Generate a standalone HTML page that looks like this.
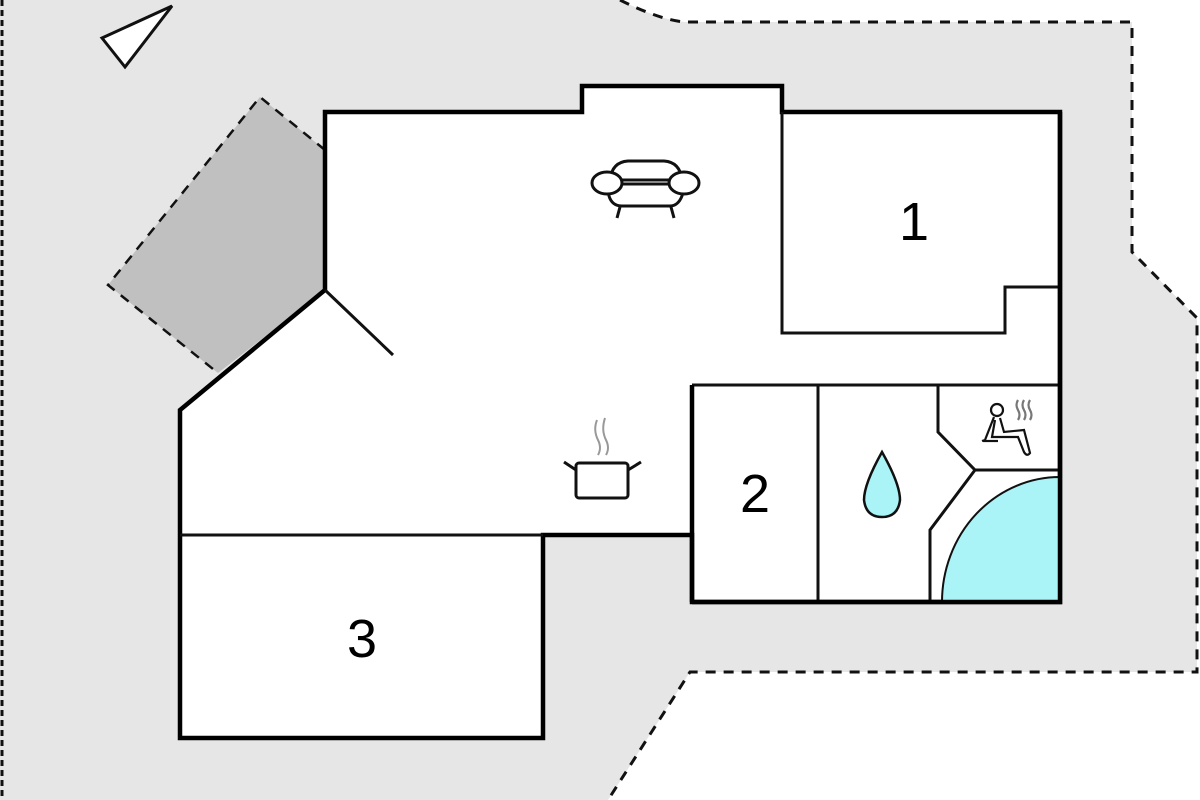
<!DOCTYPE html>
<html><head><meta charset="utf-8"><style>html,body{margin:0;padding:0;background:#fff}svg{display:block}</style></head>
<body>
<svg width="1200" height="800" viewBox="0 0 1200 800" xmlns="http://www.w3.org/2000/svg">
<rect width="1200" height="800" fill="#fff"/>
<!-- site gray -->
<path d="M0,0 L620,0 Q660,20 685,22 L1132,22 L1132,252 L1197,318 L1197,672 L690,672 L608,800 L0,800 Z" fill="#e6e6e6"/>
<path d="M620,0 Q660,20 685,22 L1132,22 L1132,252 L1197,318 L1197,672 L690,672 L608,800" fill="none" stroke="#111" stroke-width="3" stroke-dasharray="10,8"/>
<line x1="2" y1="0" x2="2" y2="800" stroke="#111" stroke-width="3" stroke-dasharray="6,4"/>
<!-- terrace -->
<path d="M325,150 L260,97 L108,285 L218,373 L325,290 Z" fill="#c0c0c0"/>
<path d="M325,150 L260,97 L108,285 L218,373" fill="none" stroke="#111" stroke-width="2.5" stroke-dasharray="10,8"/>
<!-- house -->
<path d="M325,112 L582,112 L582,86 L782,86 L782,112 L1060,112 L1060,602 L692,602 L692,535 L543,535 L543,738 L180,738 L180,410 L325,290 Z" fill="#fff" stroke="#000" stroke-width="4.5" stroke-linejoin="miter"/>
<!-- pool -->
<path d="M1060,477 A118,125 0 0 0 942,602 L1060,602 Z" fill="#aaf4f8" stroke="#111" stroke-width="2"/>
<g fill="none" stroke="#111" stroke-width="3">
<line x1="325" y1="290" x2="393" y2="355"/>
<path d="M782,112 L782,333 L1005,333 L1005,287 L1060,287"/>
<line x1="180" y1="535" x2="543" y2="535"/>
<line x1="692" y1="385" x2="1060" y2="385"/>
<line x1="818" y1="385" x2="818" y2="602"/>
<path d="M938,385 L938,432 L975,470 L1060,470"/>
<path d="M975,470 L930,530 L930,602"/>
</g>
<line x1="692" y1="385" x2="692" y2="602" stroke="#000" stroke-width="4.5"/>
<path d="M1060,112 L1060,602 L692,602" fill="none" stroke="#000" stroke-width="4.5"/>
<!-- compass -->
<polygon points="102,38 172,6 125,67" fill="#fff" stroke="#111" stroke-width="3"/>
<!-- labels -->
<g font-family="Liberation Sans, sans-serif" font-size="54" fill="#000" text-anchor="middle">
<text x="914" y="240">1</text>
<text x="755" y="512">2</text>
<text x="362" y="657">3</text>
</g>
<!-- sofa -->
<g fill="#fff" stroke="#111" stroke-width="3">
<path d="M610,180 Q612,162 628,161 L664,161 Q680,162 682,180 Z"/>
<path d="M608,184 L684,184 L682,196 Q678,206 670,206 L622,206 Q612,206 609,196 Z"/>
<ellipse cx="607" cy="183" rx="15" ry="11"/>
<ellipse cx="684" cy="183" rx="15" ry="11"/>
<line x1="620" y1="207" x2="617" y2="218"/>
<line x1="671" y1="207" x2="674" y2="218"/>
</g>
<!-- pot -->
<g fill="none" stroke="#111" stroke-width="3">
<rect x="576" y="463" width="52" height="35" rx="3" fill="#fff"/>
<path d="M576,470 L564,462 M628,470 L641,462"/>
</g>
<g fill="none" stroke="#999" stroke-width="2">
<path d="M597,420 Q593,430 598,440 Q602,448 598,455"/>
<path d="M605,418 Q601,430 606,440 Q610,448 606,455"/>
</g>
<!-- drop -->
<path d="M882,452 Q864,484 864,500 Q866,517 882,517 Q898,517 900,500 Q900,484 882,452 Z" fill="#aaf4f8" stroke="#111" stroke-width="2.5"/>
<!-- sauna person -->
<g fill="none" stroke="#111" stroke-width="2.2">
<circle cx="997" cy="410" r="6"/>
<path d="M994,417 L985,440 L982,441 M995,420 L992,437 L1018,437 L1024,452 Q1027,457 1030,453 L1024,430 L1004,432 L1000,418"/>
<path d="M983,441 L998,441"/>
<path d="M1018,400 q-3,5 0,10 q3,5 0,10 M1024,400 q-3,5 0,10 q3,5 0,10 M1030,400 q-3,5 0,10 q3,5 0,10" stroke="#777"/>
</g>
</svg>
</body></html>
